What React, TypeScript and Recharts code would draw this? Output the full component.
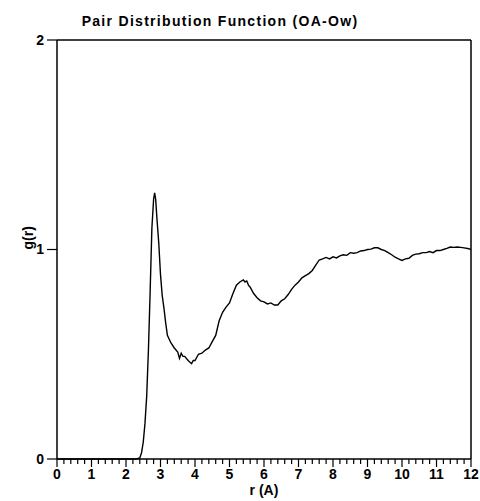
import { LineChart, Line, XAxis, YAxis, ReferenceLine } from 'recharts';

// r (Å) sample positions and g(r)
const rValues = [
  0, 2.3, 2.4, 2.45, 2.5, 2.55, 2.6, 2.65, 2.7, 2.75, 2.8, 2.83, 2.86, 2.9, 2.95,
  3.0, 3.05, 3.1, 3.15, 3.2, 3.3, 3.4, 3.5, 3.55, 3.6, 3.65, 3.7, 3.8, 3.9, 3.95,
  4.0, 4.1, 4.2, 4.3, 4.4, 4.5, 4.6, 4.7, 4.8, 4.9, 5.0, 5.1, 5.2, 5.3, 5.4, 5.45,
  5.5, 5.55, 5.6, 5.7, 5.8, 5.9, 6.0, 6.1, 6.2, 6.3, 6.4, 6.5, 6.6, 6.7, 6.8, 6.9,
  7.0, 7.1, 7.2, 7.3, 7.4, 7.5, 7.6, 7.7, 7.8, 7.9, 8.0, 8.1, 8.2, 8.3, 8.4, 8.5,
  8.6, 8.7, 8.8, 8.9, 9.0, 9.1, 9.2, 9.3, 9.4, 9.5, 9.6, 9.7, 9.8, 9.9, 10.0, 10.1,
  10.2, 10.3, 10.4, 10.5, 10.6, 10.7, 10.8, 10.9, 11.0, 11.1, 11.2, 11.3, 11.4, 11.5,
  11.6, 11.7, 11.8, 11.9, 12.0,
];

const gValues = [
  0, 0, 0.005, 0.03, 0.08, 0.17, 0.3, 0.52, 0.8, 1.1, 1.24, 1.27, 1.24, 1.14, 1.03,
  0.88, 0.78, 0.72, 0.65, 0.59, 0.555, 0.53, 0.51, 0.48, 0.505, 0.49, 0.49, 0.47, 0.455, 0.47,
  0.47, 0.5, 0.505, 0.52, 0.53, 0.56, 0.59, 0.66, 0.7, 0.725, 0.745, 0.79, 0.83, 0.845, 0.855, 0.845,
  0.85, 0.83, 0.82, 0.79, 0.77, 0.755, 0.75, 0.74, 0.745, 0.735, 0.735, 0.755, 0.765, 0.785, 0.81, 0.83,
  0.845, 0.865, 0.875, 0.885, 0.9, 0.925, 0.95, 0.955, 0.962, 0.955, 0.965, 0.96, 0.97, 0.975, 0.972, 0.985,
  0.982, 0.985, 0.993, 0.995, 1.0, 1.002, 1.008, 1.008, 1.0, 0.995, 0.985, 0.975, 0.963, 0.955, 0.948, 0.955,
  0.958, 0.972, 0.978, 0.98, 0.985, 0.985, 0.99, 0.985, 0.995, 0.995, 1.0, 1.005, 1.012, 1.01,
  1.012, 1.01, 1.008, 1.005, 1.0,
];

// every 0.2 Å gets a tick; whole numbers get a long tick and a label
const xTicks = Array.from({ length: 61 }, (_, i) => Math.round(i * 2) / 10);
const yTicks = [0, 1, 2];

const data = rValues.map((r, i) => ({ r, g: gValues[i] }));

const font = 'Liberation Sans, Arial, sans-serif';

function XTick(props: any) {
  const { x, y, payload } = props;
  const v = payload.value;
  const major = Math.abs(v - Math.round(v)) < 1e-6;
  return (
    <g>
      <line x1={x} x2={x} y1={y} y2={y + (major ? 8 : 5)} stroke="#000" strokeWidth={1.2} />
      {major && (
        <text x={x} y={y + 20} textAnchor="middle" fill="#000" fontSize={14} fontWeight={700} fontFamily={font}>
          {Math.round(v)}
        </text>
      )}
    </g>
  );
}

export default function App() {
  return (
    <div style={{ position: 'absolute', top: 0, left: 0, width: 480, height: 501, background: '#fff', fontFamily: font }}>
      <div
        style={{
          position: 'absolute',
          top: 13,
          left: 70,
          width: 300,
          textAlign: 'center',
          fontSize: 14,
          fontWeight: 700,
          letterSpacing: 1.3,
          color: '#000',
        }}
      >
        Pair Distribution Function (OA-Ow)
      </div>
      <LineChart width={480} height={501} data={data} margin={{ top: 40, right: 9, bottom: 0, left: 12 }}>
        <XAxis
          dataKey="r"
          type="number"
          domain={[0, 12]}
          ticks={xTicks}
          interval={0}
          tickSize={0}
          tickMargin={0}
          tick={<XTick />}
          tickLine={false}
          axisLine={{ stroke: '#000', strokeWidth: 1.5 }}
          height={42}
          label={{ value: 'r (A)', position: 'insideBottom', offset: 6, fill: '#000', fontSize: 14, fontWeight: 700, fontFamily: font }}
        />
        <YAxis
          type="number"
          domain={[0, 2]}
          ticks={yTicks}
          tickSize={10}
          tickMargin={3}
          tick={{ fill: '#000', fontSize: 14, fontWeight: 700, fontFamily: font }}
          axisLine={{ stroke: '#000', strokeWidth: 1.5 }}
          tickLine={{ stroke: '#000', strokeWidth: 1.2 }}
          width={45}
          label={{ value: 'g(r)', angle: -90, position: 'insideLeft', offset: 16, fill: '#000', fontSize: 14, fontWeight: 700, fontFamily: font }}
        />
        <ReferenceLine y={2} stroke="#000" strokeWidth={1.5} ifOverflow="extendDomain" />
        <ReferenceLine x={12} stroke="#000" strokeWidth={1.5} ifOverflow="extendDomain" />
        <Line
          type="linear"
          dataKey="g"
          stroke="#000"
          strokeWidth={1.4}
          dot={false}
          isAnimationActive={false}
        />
      </LineChart>
    </div>
  );
}
